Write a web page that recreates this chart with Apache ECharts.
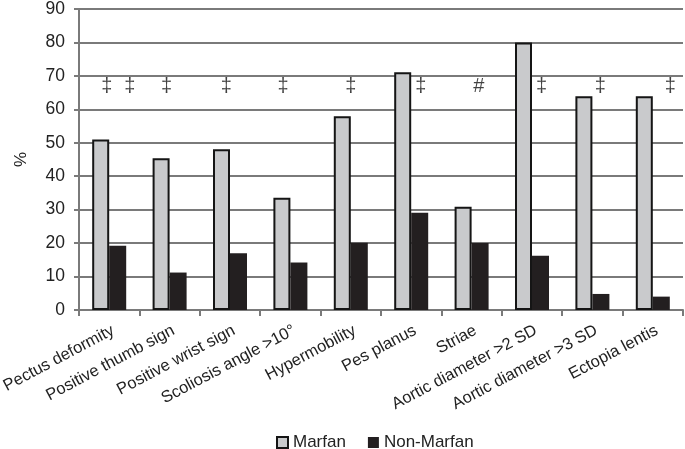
<!DOCTYPE html>
<html>
<head>
<meta charset="utf-8">
<script src="https://cdn.jsdelivr.net/npm/echarts@6/dist/echarts.min.js"></script>
<style>html,body{margin:0;padding:0;background:#fff}#c{width:685px;height:449px}</style>
</head>
<body>
<div id="c"></div>
<script>
const categories = ['Pectus deformity','Positive thumb sign','Positive wrist sign','Scoliosis angle >10°','Hypermobility','Pes planus','Striae','Aortic diameter >2 SD','Aortic diameter >3 SD','Ectopia lentis'];
const marfan = [51, 45.4, 48.1, 33.6, 57.9, 71.1, 30.9, 80, 63.9, 63.9];
const nonMarfan = [19.2, 11.2, 17, 14.2, 20.1, 29.1, 20, 16.2, 4.8, 4.0];
const yTicks = [0,10,20,30,40,50,60,70,80,90];
// significance markers: position along category axis (category index units), height, symbol
const annotX = [0.46, 0.84, 1.45, 2.44, 3.38, 4.5, 5.66, 6.62, 7.66, 8.63, 9.79];
const annotY = [66.8, 66.8, 66.8, 66.8, 66.8, 66.8, 66.8, 66.8, 66.8, 66.8, 66.8];
const annotText = ['‡','‡','‡','‡','‡','‡','‡','#','‡','‡','‡'];

const FONT = '"Liberation Sans", Arial, Helvetica, sans-serif';
const chart = echarts.init(document.getElementById('c'), null, {renderer:'canvas'});
chart.setOption({
  animation: false,
  textStyle: {fontFamily: FONT},
  grid: {left: 79, right: 2, top: 9, bottom: 139, containLabel: false, outerBoundsMode: 'none'},
  legend: {
    data: ['Marfan','Non-Marfan'],
    left: 271, top: 429,
    icon: 'rect', itemWidth: 11, itemHeight: 11, itemGap: 22, itemStyle: {borderWidth: 2},
    textStyle: {fontSize: 17, color: '#222', fontFamily: FONT}
  },
  xAxis: [{
    type: 'category', data: categories,
    axisLine: {lineStyle: {color: '#7a7a7a', width: 2}},
    axisTick: {show: true, length: 6, lineStyle: {color: '#7a7a7a', width: 2}},
    axisLabel: {rotate: 28, fontSize: 16.5, color: '#222', margin: 12, verticalAlign: 'top',
      fontFamily: FONT, interval: 0}
  }, {
    type: 'value', min: 0, max: 10, show: false
  }],
  yAxis: {
    type: 'value', min: 0, max: 90, interval: 10,
    name: '%', nameLocation: 'middle', nameGap: 49, nameRotate: 90,
    nameTextStyle: {fontSize: 17, color: '#222', fontFamily: FONT},
    axisLine: {show: true, lineStyle: {color: '#7a7a7a', width: 2}},
    axisTick: {show: true, length: 5, lineStyle: {color: '#7a7a7a', width: 2}},
    axisLabel: {fontSize: 17.5, color: '#222', margin: 14, fontFamily: FONT,
      formatter: v => yTicks.includes(v) ? String(v) : ''},
    splitLine: {show: true, lineStyle: {color: '#7a7a7a', width: 2}}
  },
  series: [{
    name: 'Marfan', type: 'bar', data: marfan, barWidth: 17, barGap: '0%',
    itemStyle: {color: '#c9cacc', borderColor: '#151515', borderWidth: 2}
  }, {
    name: 'Non-Marfan', type: 'bar', data: nonMarfan, barWidth: 17,
    itemStyle: {color: '#231f20'}
  }, {
    type: 'scatter', xAxisIndex: 1, symbolSize: 0, silent: true,
    data: annotX.map((x, i) => [x, annotY[i], annotText[i]]),
    label: {show: true, position: 'inside', formatter: p => p.data[2],
      fontSize: 20, color: '#111', fontFamily: FONT}
  }]
});
</script>
</body>
</html>
